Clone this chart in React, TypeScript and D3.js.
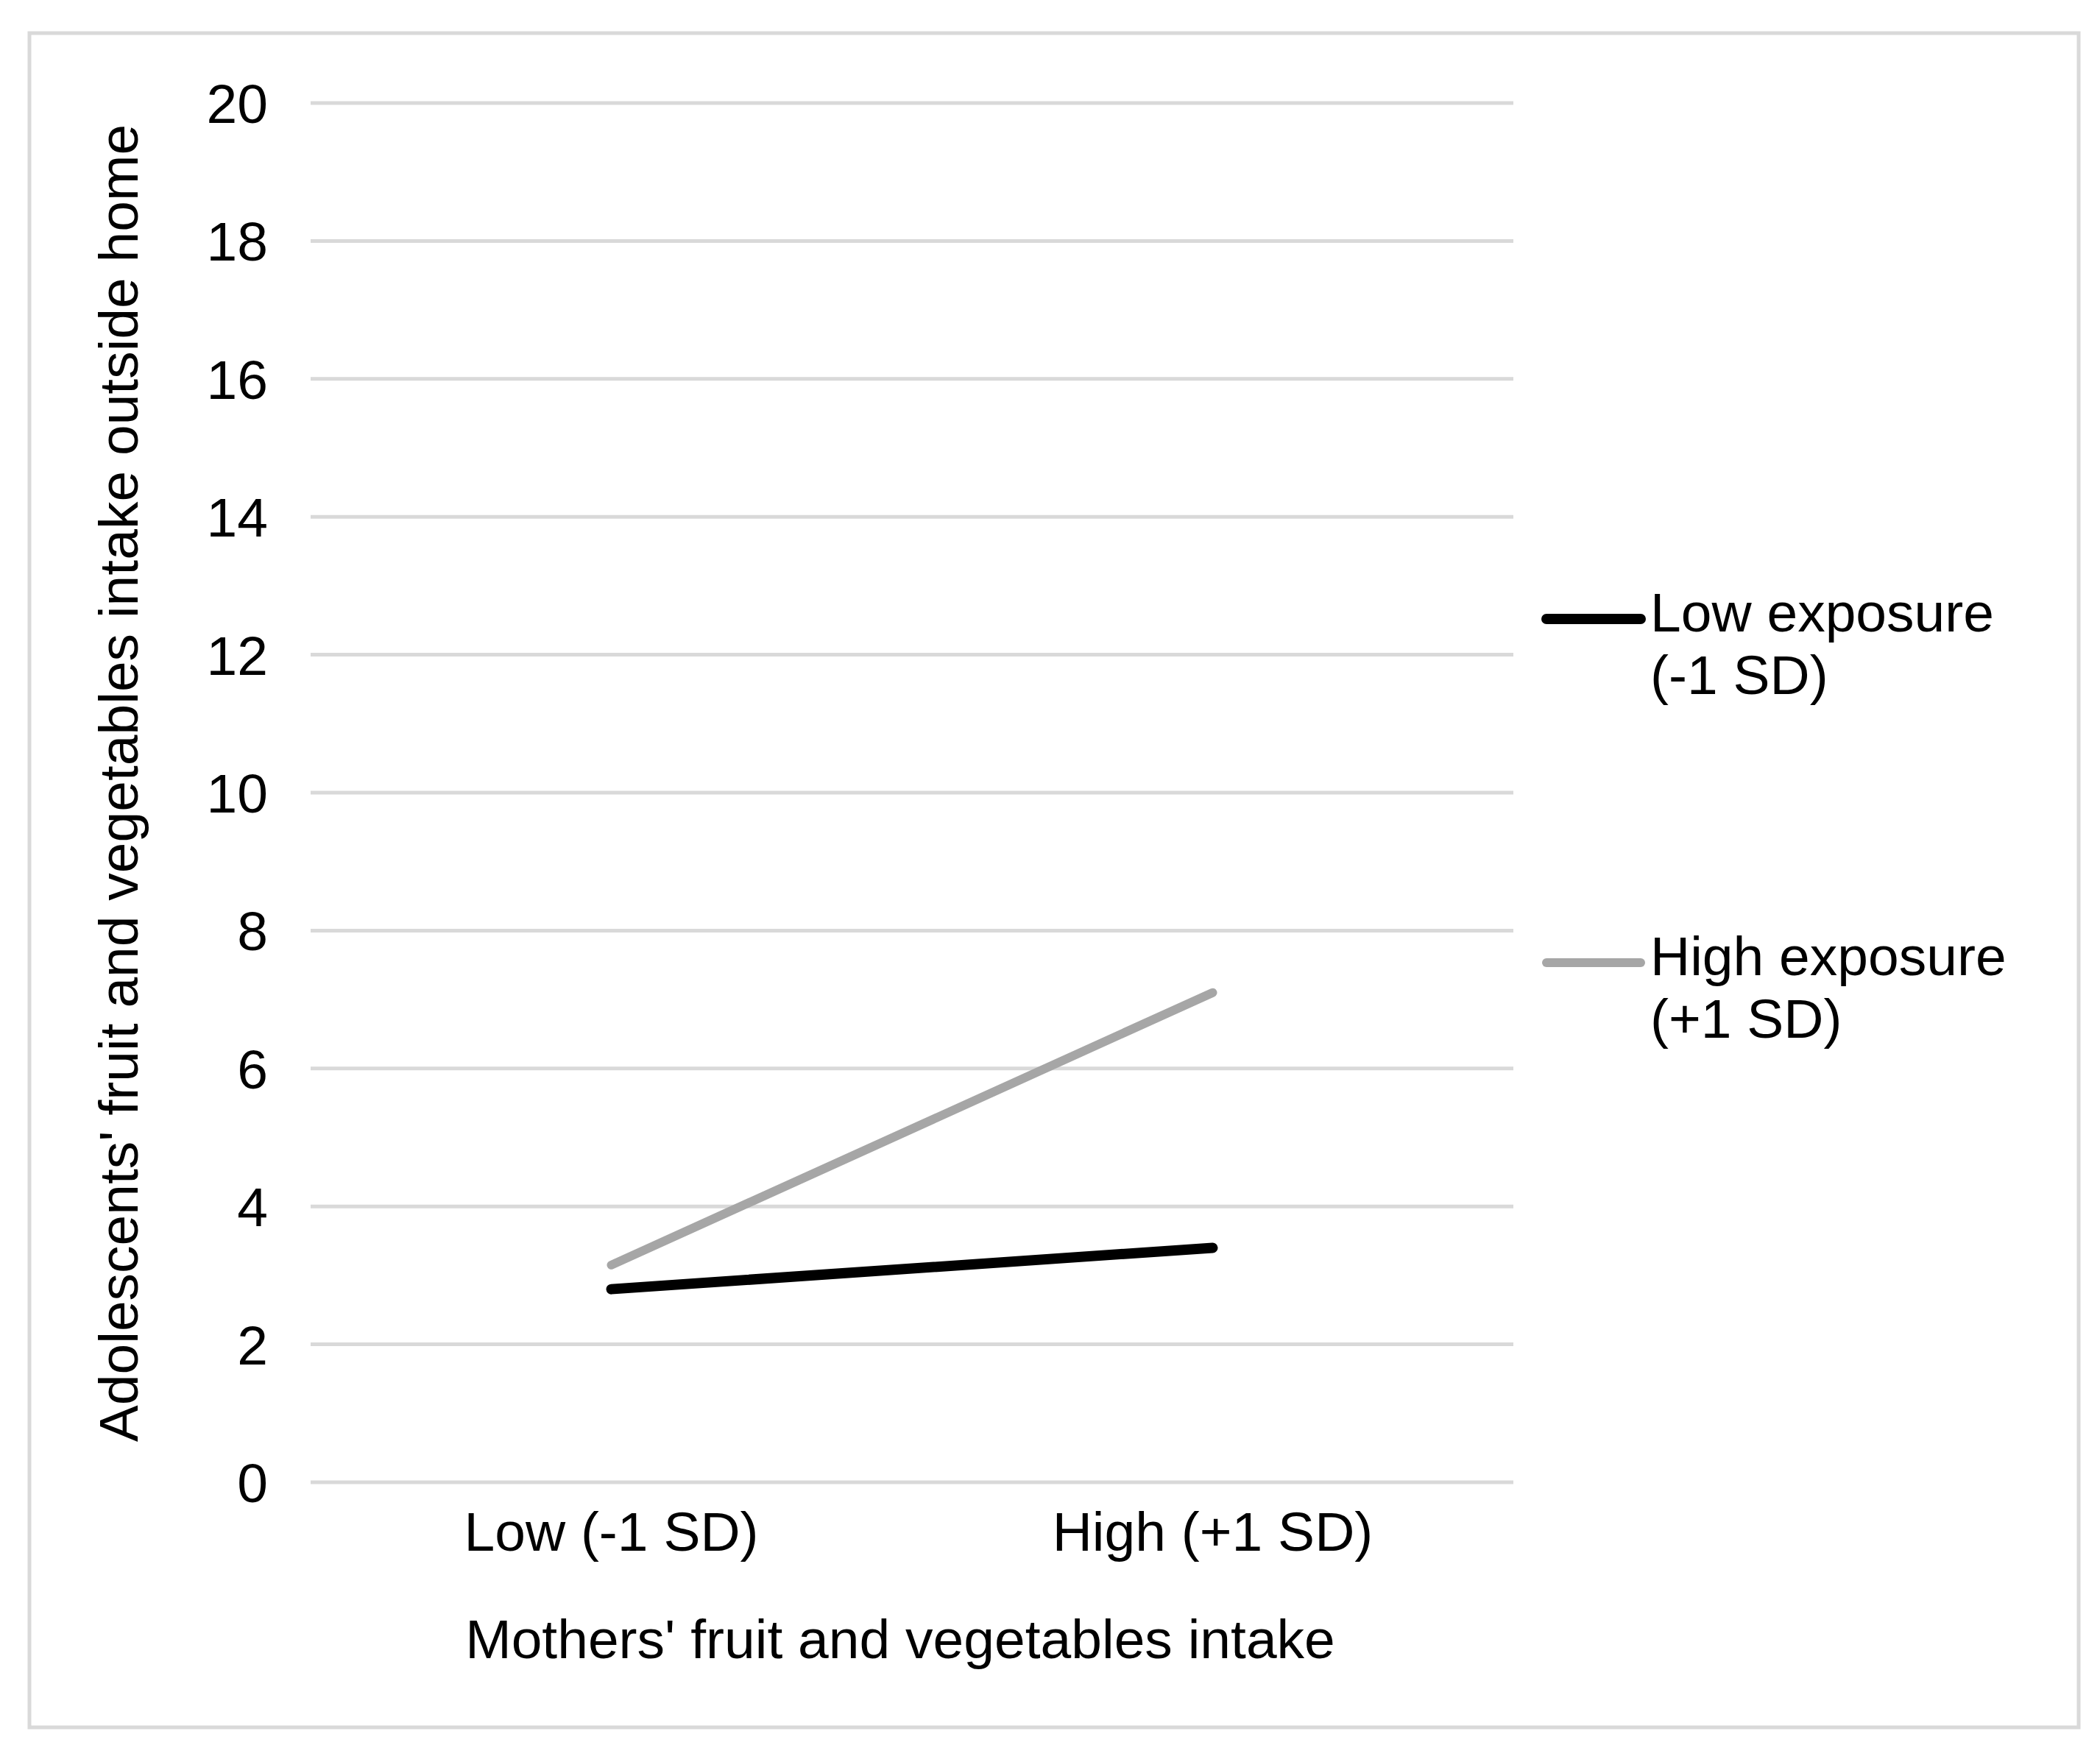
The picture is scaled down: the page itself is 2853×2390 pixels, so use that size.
import * as d3 from "d3";
import { useEffect, useRef } from "react";

const W = 2853;
const H = 2390;

const categories = ["Low (-1 SD)", "High (+1 SD)"];
const seriesNames = ["Low exposure", "High exposure"];
const seriesSub = ["(-1 SD)", "(+1 SD)"];
const lowExposure = [2.8, 3.4];
const highExposure = [3.15, 7.1];
const yTicks = [0, 2, 4, 6, 8, 10, 12, 14, 16, 18, 20];

const colors = ["#000000", "#a6a6a6"];
const widths = [14, 12];
const font = "'Liberation Sans', Arial, Helvetica, sans-serif";

const plot = { left: 422, right: 2056, top: 140, bottom: 2014 };

function drawChart(el: SVGSVGElement) {
  const svg = d3.select(el);
  svg.selectAll("*").remove();

  svg.append("rect").attr("width", W).attr("height", H).attr("fill", "#fff");

  // outer frame
  svg
    .append("rect")
    .attr("x", 40)
    .attr("y", 45)
    .attr("width", 2784)
    .attr("height", 2302)
    .attr("fill", "none")
    .attr("stroke", "#d9d9d9")
    .attr("stroke-width", 5);

  const x = d3
    .scaleBand()
    .domain(categories)
    .range([plot.left, plot.right]);
  const y = d3.scaleLinear().domain([0, 20]).range([plot.bottom, plot.top]);

  // gridlines
  svg
    .append("g")
    .selectAll("line")
    .data(yTicks)
    .enter()
    .append("line")
    .attr("x1", plot.left)
    .attr("x2", plot.right)
    .attr("y1", (d) => y(d))
    .attr("y2", (d) => y(d))
    .attr("stroke", "#d9d9d9")
    .attr("stroke-width", 5);

  // y tick labels
  svg
    .append("g")
    .selectAll("text")
    .data(yTicks)
    .enter()
    .append("text")
    .attr("x", 364)
    .attr("y", (d) => y(d))
    .attr("dy", "0.36em")
    .attr("text-anchor", "end")
    .style("font-family", font)
    .style("font-size", "75px")
    .attr("fill", "#000")
    .text((d) => d);

  // x category labels
  svg
    .append("g")
    .selectAll("text")
    .data(categories)
    .enter()
    .append("text")
    .attr("x", (d) => (x(d) as number) + x.bandwidth() / 2)
    .attr("y", 2107)
    .attr("text-anchor", "middle")
    .style("font-family", font)
    .style("font-size", "75px")
    .attr("fill", "#000")
    .text((d) => d);

  // axis titles
  svg
    .append("text")
    .attr("x", (plot.left + plot.right) / 2 - 16)
    .attr("y", 2253)
    .attr("text-anchor", "middle")
    .style("font-family", font)
    .style("font-size", "75px")
    .attr("fill", "#000")
    .text("Mothers' fruit and vegetables intake");

  svg
    .append("text")
    .attr("transform", "translate(187,1064) rotate(-90)")
    .attr("text-anchor", "middle")
    .style("font-family", font)
    .style("font-size", "75px")
    .attr("fill", "#000")
    .text("Adolescents' fruit and vegetables intake outside home");

  // lines
  const line = d3
    .line<number>()
    .x((d, i) => (x(categories[i]) as number) + x.bandwidth() / 2)
    .y((d) => y(d));

  [lowExposure, highExposure].forEach((vals, i) => {
    svg
      .append("path")
      .datum(vals)
      .attr("d", line)
      .attr("fill", "none")
      .attr("stroke", colors[i])
      .attr("stroke-width", widths[i])
      .attr("stroke-linecap", "round");
  });

  // legend
  const legendY = [841, 1308];
  seriesNames.forEach((name, i) => {
    const g = svg.append("g");
    g.append("line")
      .attr("x1", 2101)
      .attr("x2", 2229)
      .attr("y1", legendY[i])
      .attr("y2", legendY[i])
      .attr("stroke", colors[i])
      .attr("stroke-width", widths[i])
      .attr("stroke-linecap", "round");
    g.append("text")
      .attr("x", 2242)
      .attr("y", legendY[i] + 17)
      .style("font-family", font)
      .style("font-size", "75px")
      .attr("fill", "#000")
      .text(name);
    g.append("text")
      .attr("x", 2242)
      .attr("y", legendY[i] + 102)
      .style("font-family", font)
      .style("font-size", "75px")
      .attr("fill", "#000")
      .text(seriesSub[i]);
  });
}

export default function App() {
  const ref = useRef<SVGSVGElement>(null);
  useEffect(() => {
    if (ref.current) drawChart(ref.current);
  }, []);
  return (
    <svg
      ref={ref}
      width={W}
      height={H}
      style={{ position: "absolute", left: 0, top: 0, display: "block" }}
    />
  );
}
